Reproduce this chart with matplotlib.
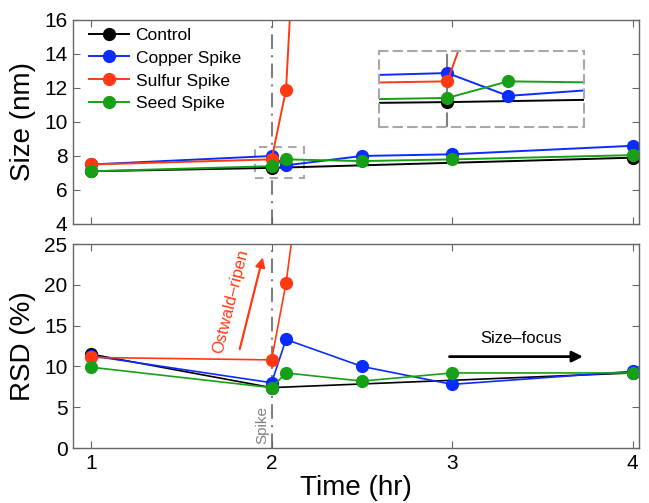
import matplotlib
matplotlib.use("Agg")
from matplotlib import pyplot as plt
from matplotlib.patches import Rectangle

plt.rcParams['font.family'] = ['Liberation Sans', 'DejaVu Sans']

# time points (hr)
t_control = [1, 2, 4]
t_full = [1, 2, 2.08, 2.5, 3, 4]
t_sulfur = [1, 2, 2.08, 2.5]

# size (nm)
size_control = [7.1, 7.3, 7.9]
size_copper = [7.5, 8.0, 7.45, 8.0, 8.1, 8.6]
size_sulfur = [7.5, 7.8, 11.9, 95]
size_seed = [7.1, 7.4, 7.8, 7.7, 7.8, 8.05]

# RSD (%)
rsd_control = [11.5, 7.4, 9.2]
rsd_copper = [11.3, 8.0, 13.3, 10.0, 7.8, 9.4]
rsd_sulfur = [11.1, 10.8, 20.2, 90]
rsd_seed = [9.9, 7.4, 9.2, 8.2, 9.2, 9.2]

labels = ['Control', 'Copper Spike', 'Sulfur Spike', 'Seed Spike']
colors = ['black', '#0a2cff', '#ff3a12', '#17a017']

series_size = [(t_control, size_control), (t_full, size_copper),
               (t_sulfur, size_sulfur), (t_full, size_seed)]
series_rsd = [(t_control, rsd_control), (t_full, rsd_copper),
              (t_sulfur, rsd_sulfur), (t_full, rsd_seed)]

spike_style = dict(color='#808080', lw=1.5, ls=(0, (7, 3, 1, 3)), zorder=1)
box_style = dict(color='#a8a8a8', lw=1.5, ls=(0, (4, 3)))

fig = plt.figure(figsize=(6.49, 5.03), dpi=100)
ax1 = fig.add_axes([0.1125, 0.5547, 0.872, 0.4056])
ax2 = fig.add_axes([0.1125, 0.1093, 0.872, 0.4056])


def style_axes(ax):
    for s in ax.spines.values():
        s.set_color('#666666')
        s.set_linewidth(1.0)
    ax.tick_params(direction='in', length=5, top=True, right=True,
                   labelsize=15, color='#666666', pad=4)
    ax.set_xlim(0.9, 4.035)
    ax.set_xticks([1, 2, 3, 4])


for (t, y), lab, c in zip(series_size, labels, colors):
    ax1.plot(t, y, '-o', color=c, lw=1.4, ms=8.5, label=lab)
ax1.axvline(2, **spike_style)
ax1.add_patch(Rectangle((1.91, 6.7), 0.27, 1.83, fill=False, **box_style))
ax1.set_ylim(4, 16)
ax1.set_yticks(range(4, 17, 2))
style_axes(ax1)
ax1.set_xticklabels([])
ax1.set_ylabel('Size (nm)', fontsize=20, labelpad=6)
ax1.legend(loc='upper left', bbox_to_anchor=(0.0, 1.04), frameon=False,
           fontsize=12.5, handlelength=2.3, labelspacing=0.45,
           handletextpad=0.4)

# inset zoom of the spike region
axi = fig.add_axes([0.584, 0.7475, 0.316, 0.151])
for (t, y), c in zip(series_size, colors):
    axi.plot(t, y, '-o', color=c, lw=1.4, ms=8.5)
axi.axvline(2, **spike_style)
axi.set_xlim(1.91, 2.18)
axi.set_ylim(6.7, 8.53)
axi.set_xticks([])
axi.set_yticks([])
axi.patch.set_alpha(0)
for s in axi.spines.values():
    s.set_color(box_style['color'])
    s.set_linewidth(1.5)
    s.set_linestyle((0, (4, 3)))

for (t, y), lab, c in zip(series_rsd, labels, colors):
    ax2.plot(t, y, '-o', color=c, lw=1.2, ms=8.5)
ax2.axvline(2, **spike_style)
ax2.set_ylim(0, 25)
ax2.set_yticks(range(0, 26, 5))
style_axes(ax2)
ax2.set_ylabel('RSD (%)', fontsize=20, labelpad=6)
ax2.set_xlabel('Time (hr)', fontsize=20, labelpad=2)

ax2.text(1.985, 0.5, 'Spike', rotation=90, color='#808080', fontsize=11,
         ha='right', va='bottom')
ax2.annotate('', xy=(1.955, 23.7), xytext=(1.82, 11.8),
             arrowprops=dict(arrowstyle='-|>', color='#ff3a12', lw=1.6,
                             mutation_scale=14))
ax2.text(1.775, 18.0, 'Ostwald\u2013ripen', rotation=76, color='#ff3a12',
         fontsize=12, ha='center', va='center', rotation_mode='anchor')
ax2.annotate('', xy=(3.74, 11.2), xytext=(2.97, 11.2),
             arrowprops=dict(arrowstyle='-|>', color='black', lw=2,
                             mutation_scale=16))
ax2.text(3.38, 13.4, 'Size\u2013focus', fontsize=12, ha='center',
         va='center')

fig.savefig('out.png', dpi=100)
